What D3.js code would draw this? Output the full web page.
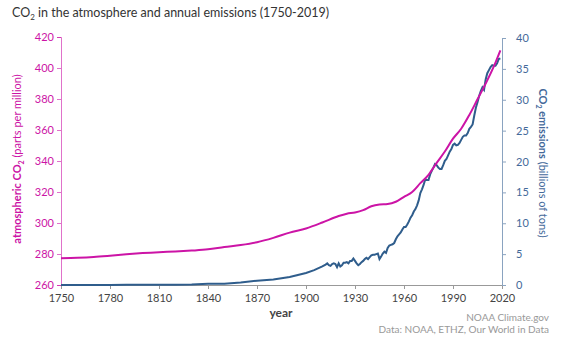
<!DOCTYPE html>
<html>
<head>
    <meta charset="utf-8">
    <script src="https://d3js.org/d3.v7.min.js"></script>
    <style>
        body { margin: 0; background: #fff; }
        text { font-family: Lato, sans-serif; }
    </style>
</head>
<body>
    <svg id="chart"></svg>

    <script>
        // CO2 concentration (ppm) by year
        const co2Years = [1750, 1760, 1770, 1780, 1790, 1800, 1810, 1820, 1830, 1840, 1850, 1860, 1870, 1880, 1890,
            1900, 1910, 1920, 1925, 1930, 1935, 1940, 1945, 1950, 1955, 1960, 1965, 1970, 1975, 1980, 1985,
            1990, 1995, 2000, 2005, 2010, 2015, 2019];
        const co2Ppm = [277.3, 277.6, 278.1, 278.9, 279.8, 280.6, 281.2, 281.6, 282.2, 283.0, 284.5, 285.8, 287.6, 290.4, 293.8,
            296.5, 300.3, 304.5, 306.0, 306.8, 308.3, 310.8, 311.9, 312.2, 313.7, 316.9, 320.0, 325.7, 331.1, 338.8, 346.1,
            354.4, 360.8, 369.7, 379.8, 389.9, 401.0, 411.4];

        // annual emissions (billions of tons CO2)
        const emisYears = [1750, 1760, 1770, 1780, 1790, 1800, 1810, 1820, 1830, 1840, 1850, 1860, 1870, 1880, 1890,
            1900, 1905, 1910, 1912, 1913, 1914, 1915, 1916, 1917, 1918, 1919, 1920, 1921, 1922, 1923, 1924, 1925,
            1926, 1927, 1928, 1929, 1930, 1931, 1932, 1933, 1934, 1935, 1936, 1937, 1938, 1939, 1940, 1941, 1942,
            1943, 1944, 1945, 1946, 1947, 1948, 1949, 1950, 1951, 1952, 1953, 1954, 1955, 1956, 1957, 1958, 1959,
            1960, 1961, 1962, 1963, 1964, 1965, 1966, 1967, 1968, 1969, 1970, 1971, 1972, 1973, 1974, 1975, 1976,
            1977, 1978, 1979, 1980, 1981, 1982, 1983, 1984, 1985, 1986, 1987, 1988, 1989, 1990, 1991, 1992, 1993,
            1994, 1995, 1996, 1997, 1998, 1999, 2000, 2001, 2002, 2003, 2004, 2005, 2006, 2007, 2008, 2009, 2010,
            2011, 2012, 2013, 2014, 2015, 2016, 2017, 2018, 2019];
        const emisGt = [0.01, 0.01, 0.02, 0.02, 0.03, 0.03, 0.04, 0.05, 0.09, 0.2, 0.2, 0.4, 0.7, 0.9, 1.3,
            1.95, 2.4, 3.0, 3.3, 3.5, 3.2, 3.1, 3.4, 3.5, 3.4, 2.9, 3.5, 3.0, 3.2, 3.6, 3.6, 3.7,
            3.5, 3.9, 3.9, 4.3, 3.9, 3.5, 3.2, 3.4, 3.7, 3.9, 4.2, 4.4, 4.2, 4.5, 4.8, 4.9, 4.9,
            5.0, 5.1, 4.2, 4.6, 5.1, 5.4, 5.2, 6.0, 6.4, 6.5, 6.6, 6.8, 7.4, 7.9, 8.2, 8.5, 9.0,
            9.4, 9.4, 9.8, 10.3, 10.9, 11.3, 11.9, 12.3, 12.9, 13.7, 14.9, 15.5, 16.2, 17.1, 17.0, 17.0, 17.9,
            18.5, 19.0, 19.6, 19.4, 19.0, 18.8, 18.8, 19.4, 20.1, 20.4, 21.0, 21.6, 22.0, 22.7, 22.9, 22.6, 22.7,
            23.0, 23.5, 24.0, 24.2, 24.2, 24.6, 25.3, 25.6, 26.0, 27.4, 28.7, 29.6, 30.6, 31.4, 32.0, 31.6, 33.3,
            34.3, 34.8, 35.3, 35.6, 35.5, 35.5, 35.9, 36.6, 36.7];

        const xTicks = [1750, 1780, 1810, 1840, 1870, 1900, 1930, 1960, 1990, 2020];
        const ppmTicks = [260, 280, 300, 320, 340, 360, 380, 400, 420];
        const emisTicks = [0, 5, 10, 15, 20, 25, 30, 35, 40];

        const width = 574, height = 345;
        const pink = "#cc14a6", blue = "#2f5d8c", blueAxis = "#8aa3c0", blueText = "#44699a";

        const svg = d3.select("#chart").attr("width", width).attr("height", height);

        const x = d3.scaleLinear().domain([1750, 2020]).range([61, 502]);
        const yL = d3.scaleLinear().domain([260, 420]).range([285, 37]);
        const yR = d3.scaleLinear().domain([0, 40]).range([285, 38]);

        // title
        const title = svg.append("text").attr("x", 12).attr("y", 17)
            .attr("fill", "#333").style("font-size", "12.5px");
        title.append("tspan").text("CO");
        title.append("tspan").text("2").attr("dy", 3).style("font-size", "8px");
        title.append("tspan").text(" in the atmosphere and annual emissions (1750-2019)").attr("dy", -3);

        // bottom axis
        const xAxis = svg.append("g").attr("transform", "translate(0,285)")
            .call(d3.axisBottom(x).tickValues(xTicks).tickFormat(d3.format("d")).tickSizeOuter(0).tickSize(4));
        xAxis.select(".domain").attr("stroke", "#999");
        xAxis.selectAll(".tick line").attr("stroke", "#999");
        xAxis.selectAll("text").attr("fill", "#444").style("font-size", "11px").attr("dy", "0.9em");

        // left axis
        const lAxis = svg.append("g").attr("transform", "translate(61,0)")
            .call(d3.axisLeft(yL).tickValues(ppmTicks).tickSizeOuter(0).tickSize(4));
        lAxis.select(".domain").attr("stroke", pink).attr("stroke-opacity", 0.6);
        lAxis.selectAll(".tick line").attr("stroke", pink).attr("stroke-opacity", 0.6);
        lAxis.selectAll("text").attr("fill", pink).style("font-size", "11px");

        // right axis
        const rAxis = svg.append("g").attr("transform", "translate(502,0)")
            .call(d3.axisRight(yR).tickValues(emisTicks).tickSizeOuter(0).tickSize(4));
        rAxis.select(".domain").attr("stroke", blueAxis);
        rAxis.selectAll(".tick line").attr("stroke", blueAxis);
        rAxis.selectAll("text").attr("fill", blueText).style("font-size", "11px").attr("x", 14);

        // lines
        const emisLine = d3.line().x((d, i) => x(emisYears[i])).y(d => yR(d));
        svg.append("path").datum(emisGt).attr("d", emisLine)
            .attr("fill", "none").attr("stroke", blue).attr("stroke-width", 2);

        const co2Line = d3.line().curve(d3.curveMonotoneX).x((d, i) => x(co2Years[i])).y(d => yL(d));
        svg.append("path").datum(co2Ppm).attr("d", co2Line)
            .attr("fill", "none").attr("stroke", pink).attr("stroke-width", 2);

        // axis titles
        const lt = svg.append("text").attr("transform", "translate(21,159) rotate(-90)")
            .attr("text-anchor", "middle").attr("fill", pink).style("font-size", "11px");
        lt.append("tspan").text("atmospheric CO").style("font-weight", "bold");
        lt.append("tspan").text("2").attr("dy", 3).style("font-size", "7px").style("font-weight", "bold");
        lt.append("tspan").text(" (parts per million)").attr("dy", -3);

        const rt = svg.append("text").attr("transform", "translate(539,163) rotate(90)")
            .attr("text-anchor", "middle").attr("fill", blueText).style("font-size", "11px");
        rt.append("tspan").text("CO").style("font-weight", "bold");
        rt.append("tspan").text("2").attr("dy", 3).style("font-size", "7px").style("font-weight", "bold");
        rt.append("tspan").text(" emissions").attr("dy", -3).style("font-weight", "bold");
        rt.append("tspan").text(" (billions of tons)");

        svg.append("text").attr("x", 281).attr("y", 317).attr("text-anchor", "middle")
            .attr("fill", "#444").style("font-size", "12px").style("font-weight", "bold").text("year");

        // credits
        svg.append("text").attr("x", 549).attr("y", 321).attr("text-anchor", "end")
            .attr("fill", "#999").style("font-size", "10px").text("NOAA Climate.gov");
        svg.append("text").attr("x", 549).attr("y", 333).attr("text-anchor", "end")
            .attr("fill", "#999").style("font-size", "10px").text("Data: NOAA, ETHZ, Our World in Data");
    </script>
</body>
</html>
